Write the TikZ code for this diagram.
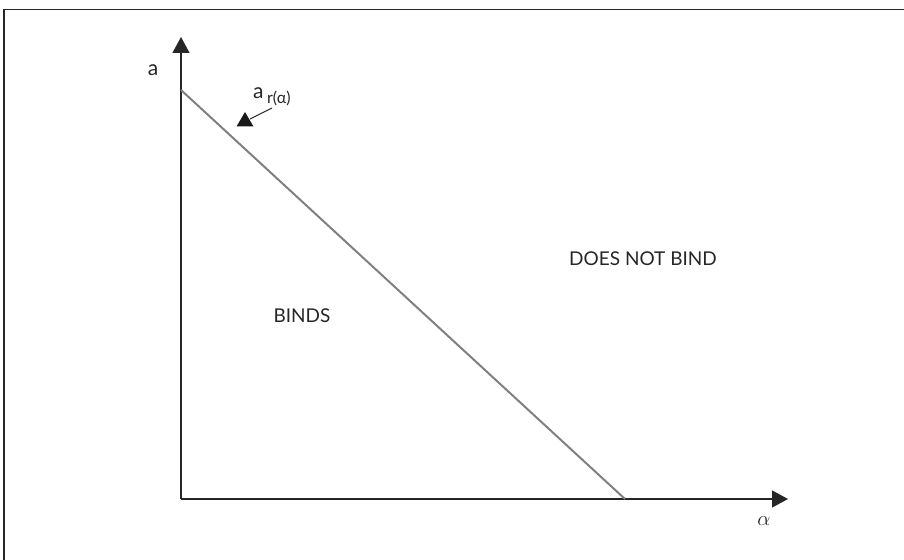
\documentclass[tikz,border=0pt]{standalone}
\usepackage{fontspec}
\setmainfont{Lato}
\usetikzlibrary{arrows.meta}
\begin{document}
\begin{tikzpicture}[x=1pt,y=1pt,
  axis/.style={draw=black!85,line width=1.3pt,-{Triangle[width=17pt,length=16pt]}},
  boundary/.style={draw=black!50,line width=2pt},
  lbl/.style={inner sep=0pt,font=\fontsize{19}{22}\selectfont,text=black!85},
  pointer/.style={draw=black!85,line width=1pt}]
\useasboundingbox (0,0) rectangle (904,-559);
\draw[black!85,line width=1.4pt] (4,-9.5) rectangle (920,-580);
\coordinate (O) at (181,-499);
\coordinate (Ytip) at (181,-37);
\coordinate (Xtip) at (788,-499);
\coordinate (Ytop) at (181,-90);
\coordinate (Xend) at (625,-499);
\draw[axis] (O) -- (Ytip);
\draw[axis] (O) -- (Xtip);
\draw[boundary] (Ytop) -- (Xend);
\node[lbl] (alab) at (153,-70) {\fontsize{21}{24}\selectfont a};
\node[lbl] (alpha) at (764,-521) {\fontsize{21}{24}\selectfont$\alpha$};
\node[lbl] (binds) at (302,-316) {BINDS};
\node[lbl] (dnb) at (643,-259) {DOES NOT BIND};
\node[lbl,anchor=base west] (ar) at (253,-99) {\fontsize{21}{24}\selectfont a\,\raisebox{-5pt}{\fontsize{16}{18}\selectfont r(α)}};
\coordinate (pstart) at (272,-108);
\coordinate (pend) at (250,-119);
\draw[pointer] (pstart) -- (pend);
\fill[black!90] (245,-112) -- (236.5,-126.5) -- (253.5,-126.5) -- cycle;
\end{tikzpicture}
\end{document}
